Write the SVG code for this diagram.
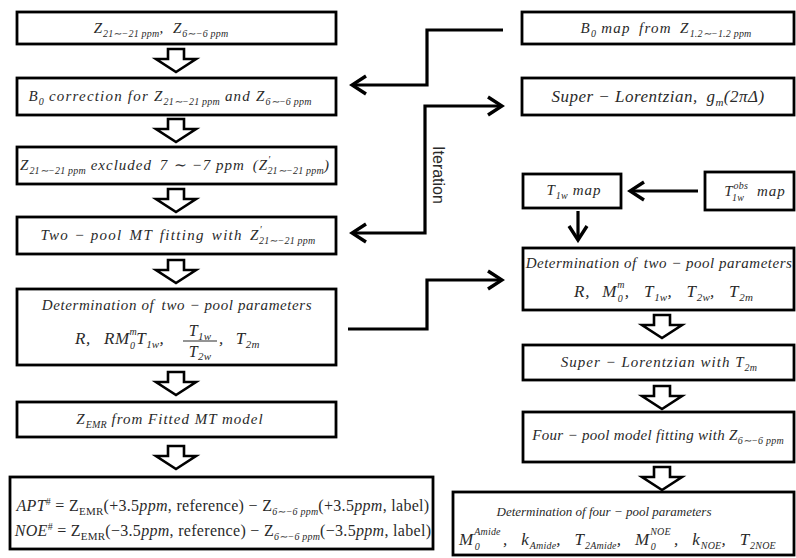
<svg xmlns="http://www.w3.org/2000/svg" xmlns:xlink="http://www.w3.org/1999/xlink" width="796" height="558" viewBox="0 0 796 558">
<defs>
<style>
.box{fill:#fff;stroke:#000;stroke-width:2.8}
.t{font-family:"Liberation Serif","Times New Roman",serif;font-style:italic;font-size:15px;fill:#2a2a2a;letter-spacing:1px}
.m{font-family:"Liberation Serif","Times New Roman",serif;font-style:italic;font-size:17px;fill:#2a2a2a;letter-spacing:0.5px}
.eq{font-family:"Liberation Serif","Times New Roman",serif;font-size:16px;fill:#2a2a2a;letter-spacing:0.3px}
.s{font-size:10px;letter-spacing:0.2px}
.ss{font-size:11px;letter-spacing:0.2px}
.i{font-style:italic}
.blk{fill:#fff;stroke:#000;stroke-width:2.6;stroke-linejoin:miter}
.conn{fill:none;stroke:#000;stroke-width:3.2}
.lbl{font-family:"Liberation Sans",Arial,sans-serif;font-size:16px;fill:#2a2a2a}
</style>
<path id="blk" class="blk" d="M-8,0 H8 V10 H20 L0,23 L-20,10 H-8 Z"/>
<marker id="ah" markerUnits="userSpaceOnUse" markerWidth="20" markerHeight="22" viewBox="0 0 20 22" refX="17" refY="11" orient="auto-start-reverse">
<path d="M3,2 L17,11 L3,20" fill="none" stroke="#000" stroke-width="3.4"/>
</marker>
</defs>

<g id="n1">
<rect class="box" x="17" y="12" width="319" height="32"/>
<text class="t" x="161" y="33" text-anchor="middle">Z<tspan class="s" dy="4">21∼−21 ppm</tspan><tspan dy="-4">, </tspan><tspan dx="4">Z</tspan><tspan class="s" dy="4">6∼−6 ppm</tspan></text>
</g>
<g id="n2">
<rect class="box" x="17" y="78" width="319" height="37"/>
<text class="t" x="170" y="101" text-anchor="middle" style="letter-spacing:1.2px">B<tspan class="s" dy="4">0</tspan><tspan dy="-4"> correction for Z</tspan><tspan class="s" dy="4">21∼−21 ppm</tspan><tspan dy="-4"> and Z</tspan><tspan class="s" dy="4">6∼−6 ppm</tspan></text>
</g>
<g id="n3">
<rect class="box" x="17" y="147" width="319" height="37"/>
<text class="t" x="175" y="170" text-anchor="middle">Z<tspan class="s" dy="4">21∼−21 ppm</tspan><tspan dy="-4"> excluded </tspan><tspan dx="3">7 ∼ −7 ppm </tspan><tspan dx="3">(Z</tspan><tspan class="s" dy="-7">′</tspan><tspan class="s" dx="-3" dy="11">21∼−21 ppm</tspan><tspan dy="-4">)</tspan></text>
</g>
<g id="n4">
<rect class="box" x="17" y="217" width="319" height="37"/>
<text class="t" x="178" y="240" text-anchor="middle" style="letter-spacing:1.3px">Two − pool <tspan dx="2">MT </tspan><tspan dx="2">fitting </tspan><tspan dx="2">with </tspan><tspan dx="2">Z</tspan><tspan class="s" dy="-7">′</tspan><tspan class="s" dx="-3" dy="11">21∼−21 ppm</tspan></text>
</g>
<g id="n5">
<rect class="box" x="17" y="289" width="319" height="76"/>
<text class="t" x="177" y="310" text-anchor="middle" style="letter-spacing:0.6px">Determination of <tspan dx="3">two − pool parameters</tspan></text>
<text class="m" x="75" y="344">R,</text>
<text class="m" x="104" y="344">RM<tspan class="s" dy="-9">m</tspan><tspan class="s" dx="-7" dy="14">0</tspan><tspan dx="1" dy="-5">T</tspan><tspan class="ss" dy="4">1w</tspan><tspan dy="-4">,</tspan></text>
<text class="m" x="200" y="336" text-anchor="middle" style="font-size:16px">T<tspan class="ss" dy="4">1w</tspan></text>
<line x1="183" y1="341" x2="217" y2="341" stroke="#2a2a2a" stroke-width="1.2"/>
<text class="m" x="200" y="357" text-anchor="middle" style="font-size:16px">T<tspan class="ss" dy="3">2w</tspan></text>
<text class="m" x="219" y="344">,<tspan dx="12">T</tspan><tspan class="ss" dy="4">2m</tspan></text>
</g>
<g id="n6">
<rect class="box" x="17" y="402" width="319" height="35"/>
<text class="t" x="170" y="424" text-anchor="middle">Z<tspan class="s" dy="4">EMR</tspan><tspan dy="-4"> from Fitted MT model</tspan></text>
</g>
<g id="n7">
<rect class="box" x="10" y="477" width="423" height="72"/>
<text class="eq" x="223" y="511" text-anchor="middle"><tspan class="i">APT</tspan><tspan class="s" dy="-6">#</tspan><tspan dy="6"> = Z</tspan><tspan class="ss" dy="4">EMR</tspan><tspan dy="-4">(+3.5</tspan><tspan class="i">ppm</tspan>, reference) − Z<tspan class="s i" dy="4">6∼−6 ppm</tspan><tspan dy="-4">(+3.5</tspan><tspan class="i">ppm</tspan>, label)</text>
<text class="eq" x="223" y="536" text-anchor="middle"><tspan class="i">NOE</tspan><tspan class="s" dy="-6">#</tspan><tspan dy="6"> = Z</tspan><tspan class="ss" dy="4">EMR</tspan><tspan dy="-4">(−3.5</tspan><tspan class="i">ppm</tspan>, reference) − Z<tspan class="s i" dy="4">6∼−6 ppm</tspan><tspan dy="-4">(−3.5</tspan><tspan class="i">ppm</tspan>, label)</text>
</g>

<g id="r1">
<rect class="box" x="522" y="12" width="272" height="32"/>
<text class="t" x="666" y="33" text-anchor="middle" style="letter-spacing:1.3px">B<tspan class="s" dy="4">0</tspan><tspan dy="-4"> map </tspan><tspan dx="3">from </tspan><tspan dx="3">Z</tspan><tspan class="s" dy="4">1.2∼−1.2 ppm</tspan></text>
</g>
<g id="r2">
<rect class="box" x="522" y="78" width="272" height="37"/>
<text class="m" x="658" y="102" text-anchor="middle">Super − Lorentzian, <tspan dx="4">g</tspan><tspan class="ss" dy="4">m</tspan><tspan dy="-4">(2πΔ)</tspan></text>
</g>
<g id="r3">
<rect class="box" x="523" y="174" width="98" height="34"/>
<text class="t" x="574" y="195" text-anchor="middle">T<tspan class="s" dy="4">1w</tspan><tspan dy="-4"> map</tspan></text>
</g>
<g id="r4">
<rect class="box" x="705" y="172" width="89" height="38"/>
<text class="t" x="755" y="196" text-anchor="middle">T<tspan class="s" dy="-7">obs</tspan><tspan class="s" dx="-16" dy="12">1w</tspan><tspan dx="8" dy="-5"> map</tspan></text>
</g>
<g id="r5">
<rect class="box" x="523" y="248" width="271" height="62"/>
<text class="t" x="659" y="268" text-anchor="middle" style="letter-spacing:0.5px">Determination of <tspan dx="3">two − pool parameters</tspan></text>
<text class="m" x="574" y="297" style="letter-spacing:0.8px">R,<tspan dx="12">M</tspan><tspan class="s" dy="-9">m</tspan><tspan class="s" dx="-7" dy="14">0</tspan><tspan dx="2" dy="-5">,</tspan><tspan dx="14">T</tspan><tspan class="ss" dy="4">1w</tspan><tspan dy="-4">,</tspan><tspan dx="14">T</tspan><tspan class="ss" dy="4">2w</tspan><tspan dy="-4">,</tspan><tspan dx="14">T</tspan><tspan class="ss" dy="4">2m</tspan></text>
</g>
<g id="r6">
<rect class="box" x="523" y="345" width="271" height="35"/>
<text class="t" x="659" y="367" text-anchor="middle">Super − Lorentzian with T<tspan class="s" dy="4">2m</tspan></text>
</g>
<g id="r7">
<rect class="box" x="523" y="412" width="271" height="50"/>
<text class="t" x="658" y="440" text-anchor="middle" style="letter-spacing:0.3px">Four − pool model fitting with Z<tspan class="s" dy="4">6∼−6 ppm</tspan></text>
</g>
<g id="r8">
<rect class="box" x="453" y="492" width="341" height="63"/>
<text class="t" x="604" y="516" text-anchor="middle" style="font-size:13px;letter-spacing:0px">Determination of four − pool parameters</text>
<text class="m" x="459" y="545" style="letter-spacing:1px">M<tspan class="s" dy="-10">Amide</tspan><tspan class="s" dx="-26" dy="15">0</tspan><tspan dx="23" dy="-5">,</tspan><tspan dx="13">k</tspan><tspan class="s" dy="4">Amide</tspan><tspan dy="-4">,</tspan><tspan dx="13">T</tspan><tspan class="s" dy="4">2Amide</tspan><tspan dy="-4">,</tspan><tspan dx="13">M</tspan><tspan class="s" dy="-10">NOE</tspan><tspan class="s" dx="-20" dy="15">0</tspan><tspan dx="18" dy="-5">,</tspan><tspan dx="13">k</tspan><tspan class="s" dy="4">NOE</tspan><tspan dy="-4">,</tspan><tspan dx="13">T</tspan><tspan class="s" dy="4">2NOE</tspan></text>
</g>

<g id="flow-arrows">
<use xlink:href="#blk" x="176" y="49"/>
<use xlink:href="#blk" x="176" y="119"/>
<use xlink:href="#blk" x="176" y="189"/>
<use xlink:href="#blk" x="176" y="260"/>
<use xlink:href="#blk" x="176" y="372"/>
<use xlink:href="#blk" x="176" y="446"/>
<use xlink:href="#blk" x="662" y="315"/>
<use xlink:href="#blk" x="662" y="386"/>
<use xlink:href="#blk" x="662" y="467"/>
</g>

<g id="connectors">
<path class="conn" d="M503,30 H427 V85 H352" marker-end="url(#ah)"/>
<path class="conn" d="M352,233 H425 V106 H502" marker-start="url(#ah)" marker-end="url(#ah)"/>
<path class="conn" d="M348,329 H427 V280 H502" marker-end="url(#ah)"/>
<path class="conn" d="M698,191 H630" marker-end="url(#ah)"/>
<path class="conn" d="M578,211 V240" marker-end="url(#ah)"/>
<text class="lbl" x="438" y="175" text-anchor="middle" transform="rotate(90 438 175)" dy="5">Iteration</text>
</g>
</svg>
